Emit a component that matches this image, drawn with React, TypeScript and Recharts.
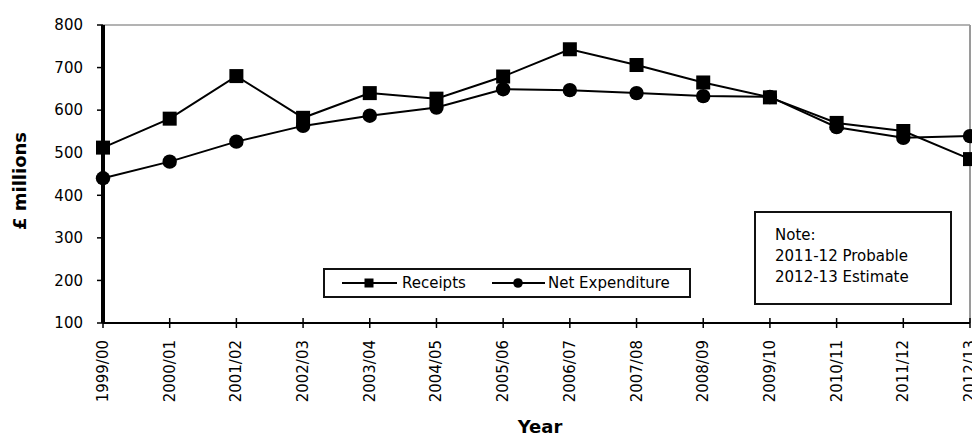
import React from 'react';
import { LineChart, Line, XAxis, YAxis, ReferenceLine, Legend } from 'recharts';

const years = [
  '1999/00', '2000/01', '2001/02', '2002/03', '2003/04', '2004/05', '2005/06',
  '2006/07', '2007/08', '2008/09', '2009/10', '2010/11', '2011/12', '2012/13',
];
const receipts = [512, 580, 680, 582, 640, 627, 679, 743, 706, 665, 630, 570, 551, 485];
const netExpenditure = [440, 479, 526, 563, 587, 606, 649, 647, 640, 633, 631, 560, 535, 539];
const yTicks = [100, 200, 300, 400, 500, 600, 700, 800];
const noteLines = ['Note:', '2011-12 Probable', '2012-13 Estimate'];

const data = years.map((year, i) => ({ year, receipts: receipts[i], net: netExpenditure[i] }));

const FONT = '"DejaVu Sans", Verdana, sans-serif';

const SquareDot = (props: any) => {
  const { cx, cy } = props;
  if (cx == null || cy == null) return null;
  return <rect x={cx - 7} y={cy - 7} width={14} height={14} fill="#000" />;
};

const CircleDot = (props: any) => {
  const { cx, cy } = props;
  if (cx == null || cy == null) return null;
  return <circle cx={cx} cy={cy} r={7.2} fill="#000" />;
};

const XTick = (props: any) => {
  const { x, y, payload } = props;
  const ty = y + 17;
  return (
    <g>
      <line x1={x} x2={x} y1={y - 5} y2={y + 5} stroke="#000" strokeWidth={1.5} />
      <text
        x={x}
        y={ty}
        transform={`rotate(-90 ${x} ${ty})`}
        textAnchor="end"
        dominantBaseline="central"
        fontSize={15}
        fontFamily={FONT}
        fill="#000"
      >
        {payload.value}
      </text>
    </g>
  );
};

const LegendContent = () => (
  <div
    style={{
      position: 'relative',
      width: 368,
      height: 30,
      border: '2px solid #111',
      boxSizing: 'border-box',
      background: '#fff',
      fontFamily: FONT,
      fontSize: 15,
      color: '#000',
    }}
  >
    <svg width={364} height={26} style={{ position: 'absolute', left: 0, top: 0 }}>
      <line x1={17} x2={72} y1={13} y2={13} stroke="#000" strokeWidth={2} />
      <rect x={39.5} y={8.5} width={9} height={9} fill="#000" />
      <line x1={167} x2={220} y1={13} y2={13} stroke="#000" strokeWidth={2} />
      <circle cx={193} cy={13} r={4.8} fill="#000" />
    </svg>
    <span style={{ position: 'absolute', left: 77, top: 4, lineHeight: '18px', whiteSpace: 'nowrap' }}>Receipts</span>
    <span style={{ position: 'absolute', left: 223, top: 4, lineHeight: '18px', whiteSpace: 'nowrap' }}>Net Expenditure</span>
  </div>
);

export default function App() {
  return (
    <div style={{ position: 'absolute', left: 0, top: 0, width: 972, height: 437, background: '#fff' }}>
      <LineChart
        width={972}
        height={437}
        data={data}
        margin={{ top: 25, right: 2, bottom: 0, left: 0 }}
      >
        <ReferenceLine y={800} stroke="#9a9a9a" strokeWidth={1.5} />
        <ReferenceLine x="2012/13" stroke="#9a9a9a" strokeWidth={2} />
        <XAxis
          dataKey="year"
          interval={0}
          padding={{ left: 0, right: 0 }}
          height={114}
          tickSize={0}
          tickMargin={0}
          tickLine={false}
          tick={<XTick />}
          axisLine={{ stroke: '#000', strokeWidth: 2 }}
          label={{
            content: () => (
              <text x={540} y={433} textAnchor="middle" fontSize={18} fontWeight="bold" fontFamily={FONT} fill="#000">
                Year
              </text>
            ),
          }}
        />
        <YAxis
          width={103}
          domain={[100, 800]}
          ticks={yTicks}
          interval={0}
          allowDataOverflow
          tickSize={6}
          tickMargin={14}
          tickLine={{ stroke: '#000', strokeWidth: 1.5 }}
          axisLine={{ stroke: '#000', strokeWidth: 4 }}
          tick={{ fontSize: 15, fontFamily: FONT, fill: '#000' }}
          label={{
            content: () => (
              <text
                x={19}
                y={181}
                transform="rotate(-90 19 181)"
                textAnchor="middle"
                dominantBaseline="central"
                fontSize={18}
                fontWeight="bold"
                fontFamily={FONT}
                fill="#000"
              >
                £ millions
              </text>
            ),
          }}
        />
        <Legend
          layout="horizontal"
          verticalAlign="middle"
          align="center"
          content={<LegendContent />}
          wrapperStyle={{ position: 'absolute', left: 323, top: 268, width: 368, height: 30, margin: 0 }}
        />
        <Line
          type="linear"
          dataKey="net"
          name="Net Expenditure"
          stroke="#000"
          strokeWidth={2}
          dot={<CircleDot />}
          activeDot={false}
          isAnimationActive={false}
        />
        <Line
          type="linear"
          dataKey="receipts"
          name="Receipts"
          stroke="#000"
          strokeWidth={2}
          dot={<SquareDot />}
          activeDot={false}
          isAnimationActive={false}
        />
      </LineChart>
      <div
        style={{
          position: 'absolute',
          left: 754,
          top: 211,
          width: 198,
          height: 94,
          border: '2px solid #111',
          boxSizing: 'border-box',
          background: '#fff',
          fontFamily: FONT,
          fontSize: 15,
          lineHeight: '21px',
          color: '#000',
          padding: '12px 0 0 19px',
        }}
      >
        {noteLines.map((t) => (
          <div key={t} style={{ whiteSpace: 'nowrap' }}>{t}</div>
        ))}
      </div>
    </div>
  );
}
